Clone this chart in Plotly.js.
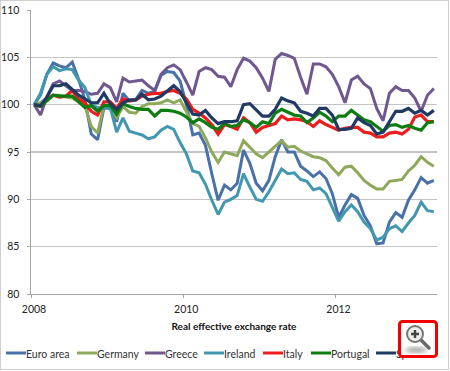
<!DOCTYPE html>
<html>
<head>
<meta charset="utf-8">
<script src="https://cdn.plot.ly/plotly-3.0.1.min.js"></script>
<style>
html,body{margin:0;padding:0;background:#fff;overflow:hidden}
#wrap{position:relative;width:450px;height:371px}
#chart{position:absolute;left:0;top:0;width:450px;height:371px}
#frame{position:absolute;left:0;top:0;width:447px;height:368px;border:1.5px solid #cfcfcf;pointer-events:none}
#zoomIcon{position:absolute;left:398px;top:320px;pointer-events:none}
</style>
</head>
<body>
<div id="wrap">
<div id="chart"></div>
<div id="frame"></div>
<svg id="zoomIcon" width="40" height="38" viewBox="0 0 40 38">
  <defs><filter id="b"><feGaussianBlur stdDeviation="2"/></filter></defs>
  <rect x="1.5" y="1.5" width="37" height="35" rx="3" fill="#fff" stroke="#f00000" stroke-width="3"/>
  <ellipse cx="18" cy="30" rx="11" ry="3" fill="#aaa" filter="url(#b)"/>
  <line x1="23" y1="20" x2="31" y2="28" stroke="#6a6a6a" stroke-width="3.5" stroke-linecap="round"/>
  <circle cx="17" cy="14" r="8" fill="#eeeeee" stroke="#777" stroke-width="2"/>
  <path d="M13 14h8M17 10v8" stroke="#444" stroke-width="2.4"/>
</svg>
</div>
<script>
const tickYears = ['2008', '2010', '2012'];
const tickPositions = [-0.5, 23.5, 47.5];
const yTicks = [80, 85, 90, 95, 100, 105, 110];

const euroArea = [100,101,103.2,104.4,104.1,103.9,104.5,102.7,100.5,96.9,
  96.3,99.7,99.6,98.2,101.2,100.4,100.5,101.5,101.2,101.4,
  103.1,103.5,103.4,102.5,100,96.8,97,95.7,92.7,89.9,
  91.5,91,91.7,95.2,93.8,91.7,90.9,92,94.5,96.3,
  95,95,93.5,93,92.4,92.9,92.2,90.6,88.1,89.4,
  90.5,90.1,88.3,87.2,85.3,85.4,87.6,88.6,88.1,89.9,
  91,92.3,91.7,92];
const germany = [100,100.2,100.7,101,101,100.8,100.7,100.3,99.9,97.7,
  97,99.9,99.6,98.6,99.8,99.2,99.1,99.8,100.1,100.1,
  100.2,100.5,100.2,100.5,99.3,98,97.7,96.5,95,93.9,
  95,94.8,94.6,96.2,95.5,94.8,94.4,95,95.6,96.2,
  95.5,95.6,95.1,94.8,94.5,94.4,94.1,93.3,92.6,93.4,
  93.5,92.8,92,91.5,91.1,91.1,91.9,92,92.1,93,
  93.6,94.5,93.9,93.5];
const greece = [100,98.9,100.8,102.2,102.5,102,101.5,101.5,101.4,101.1,
  101.2,102.2,101.8,100.3,102.8,102.4,102.5,102.6,102,101.5,
  103.2,103.9,104.2,103.7,102.4,101,103.5,103.9,103.7,103,
  102.9,101.9,103.7,104.9,104.6,103.9,102.8,101.4,104.8,105.4,
  105.2,104.9,102.9,101.1,104.3,104.3,104,103.2,101.9,100.2,
  102.6,103,102.2,101.7,99.6,98.3,101.2,101.9,101.5,101.5,
  100.7,99.3,101,101.7];
const ireland = [100,101.2,103.2,104,103.6,103.8,103.7,102.6,101.8,100,
  99.7,99.6,99.7,97.1,98.6,97.2,97,96.8,96.4,96.6,
  97.3,97.7,97.4,96,94.8,93,92.8,91.6,89.9,88.4,
  89.7,90,90.4,92.7,91.3,90,89.8,90.8,92,93.2,
  92.7,92.8,92.1,91.9,91,91.2,90.6,89.2,87.7,88.7,
  89.4,88.7,87.6,86.9,85.7,86,86.9,87.2,86.6,87.5,
  88.3,89.7,88.8,88.7];
const italy = [100,99.8,100.5,101,100.8,100.9,101.5,100.6,100.2,99.3,
  98.9,100.3,100.3,99.6,100.6,100.4,100.5,100.9,101.1,101.2,
  101.2,101.4,101.5,101.2,100.6,99.5,99.1,98.6,97.9,96.9,
  97.9,97.7,97.4,98.6,98.1,97.1,97.6,97.8,98,98.8,
  98.4,98.5,98.4,98.2,97.7,98.3,97.9,97.6,97.3,97.5,
  97.6,97.6,97.1,97,96.6,96.6,97,97.1,96.9,97.4,
  98.7,98.9,98.2,98.2];
const portugal = [100,99.8,100.4,101,100.9,100.9,100.9,100.3,99.7,99.9,
  99.3,99.9,99.9,99,100.1,99.8,99.6,99.5,99.5,98.8,
  99.4,99.4,99.3,99.1,98.7,98.1,98.5,98.1,97.6,97.4,
  98,97.7,97.8,98.4,98.1,97.6,98.2,98,99.1,99.5,
  99.2,98.9,98.8,98.1,98.6,99.2,98.8,98.2,98.8,98.8,
  99.4,98.9,98.4,98.2,97.7,97.2,97.8,97.9,97.6,97.8,
  97.5,97.3,98.1,98.2];
const spain = [100,99.9,100.8,102,102,102.2,101.6,101,100.6,100.2,
  100.2,101.2,100.1,99.5,100.2,100.5,100.5,101.1,100.5,100.6,
  100.9,101.5,102,101.4,100.2,99,98.9,99.4,98.6,98,
  98.2,98.2,98.3,100,100.1,99.5,98.8,98.8,99.5,100.7,
  100.4,100.2,99.3,99.1,98.8,99.6,99.6,98.9,97.4,97.4,
  97.5,98.6,98.1,97.8,96.9,97.1,98.2,99.3,99.3,99.6,
  99.1,99.4,98.9,99.4];

const names = ['Euro area', 'Germany', 'Greece', 'Ireland', 'Italy', 'Portugal', 'Spain'];
const seriesValues = [euroArea, germany, greece, ireland, italy, portugal, spain];
const colors = ['#4a70a8', '#8fa95c', '#6f5790', '#4298b0', '#ee1c1c', '#0d7d12', '#1f3a63'];
const widths = [3, 3, 3, 3, 3.2, 3.2, 3.2];
const legendStart = [6, 77, 145, 204, 263, 311, 376];

const PL = 31, PR = 437, PT = 10, PB = 294;
const px = x => (x - PL) / (PR - PL);
const py = y => (PB - y) / (PB - PT);
const FONT = 'Lato, "Open Sans", sans-serif';

const traces = seriesValues.map((v, k) => ({
  type: 'scatter', mode: 'lines', name: names[k],
  x: v.map((_, i) => i), y: v,
  line: {color: colors[k], width: widths[k]},
  showlegend: false, hoverinfo: 'skip'
}));

const shapes = names.map((n, k) => ({
  type: 'line', xref: 'paper', yref: 'paper', layer: 'above',
  x0: px(legendStart[k]), x1: px(legendStart[k] + 20), y0: py(353), y1: py(353),
  line: {color: colors[k], width: 3}
}));
const annotations = names.map((n, k) => ({
  text: n, xref: 'paper', yref: 'paper', x: px(legendStart[k] + 18), y: py(354),
  xanchor: 'left', yanchor: 'middle', showarrow: false,
  font: {family: FONT, size: 10.5, color: '#333'}
}));

Plotly.newPlot('chart', traces, {
  width: 450, height: 371,
  margin: {l: PL, r: 450 - PR, t: PT, b: 371 - PB, pad: 0},
  paper_bgcolor: '#fff', plot_bgcolor: '#fff',
  showlegend: false,
  xaxis: {
    type: 'linear', range: [-0.5, 63.5], tickmode: 'array',
    tickvals: tickPositions, ticktext: tickYears, ticklabelshift: 3, ticklabelstandoff: 2,
    ticks: 'outside', ticklen: 3, tickcolor: '#a6a6a6', tickwidth: 1,
    showgrid: false, zeroline: false, showline: true, linecolor: '#a6a6a6', linewidth: 1,
    tickfont: {family: FONT, size: 10.5, color: '#222'},
    title: {text: '<b>Real effective exchange rate</b>', standoff: 9,
            font: {family: FONT, size: 10, color: '#111'}}
  },
  yaxis: {
    range: [80, 110], tickmode: 'array', tickvals: yTicks, ticktext: yTicks.map(String),
    ticks: 'outside', ticklen: 3, tickcolor: '#a6a6a6', tickwidth: 1,
    ticklabelstandoff: 5,
    showgrid: true, gridcolor: '#c4c4c4', gridwidth: 1.6,
    zeroline: false, showline: true, linecolor: '#a6a6a6', linewidth: 1.5,
    tickfont: {family: FONT, size: 10.5, color: '#222'}
  },
  shapes, annotations
}, {displayModeBar: false, staticPlot: true});
</script>
</body>
</html>
